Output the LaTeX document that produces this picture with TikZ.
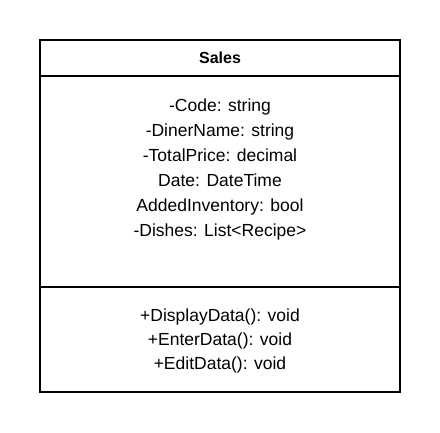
\documentclass[tikz,border=0pt]{standalone}
\usepackage{fontspec}
\setmainfont{Liberation Sans}
\begin{document}
\begin{tikzpicture}[x=1pt,y=-1pt,
  box/.style={draw=black,line width=2pt},
  txt/.style={font=\fontsize{17.5}{21}\selectfont,inner sep=0pt,anchor=base},
  title/.style={font=\fontsize{16}{19}\selectfont\bfseries,inner sep=0pt,anchor=base}]
\useasboundingbox (0,0) rectangle (440,433);
\coordinate (tl) at (40,40);
\coordinate (br) at (400,392);
\draw[box] (tl) rectangle (br);
\coordinate (h1l) at (40,76); \coordinate (h1r) at (400,76);
\coordinate (h2l) at (40,287); \coordinate (h2r) at (400,287);
\draw[box] (h1l) -- (h1r);
\draw[box] (h2l) -- (h2r);
\node[title] (t) at (220,64) {Sales};
\node[txt] (a1) at (220,112) {-Code: string};
\node[txt] (a2) at (220,137) {-DinerName: string};
\node[txt] (a3) at (220,162) {-TotalPrice: decimal};
\node[txt] (a4) at (220,187) {Date: DateTime};
\node[txt] (a5) at (220,212) {AddedInventory: bool};
\node[txt] (a6) at (220,237) {-Dishes: List<Recipe>};
\node[txt] (m1) at (220,322) {+DisplayData(): void};
\node[txt] (m2) at (220,346) {+EnterData(): void};
\node[txt] (m3) at (220,370) {+EditData(): void};
\end{tikzpicture}
\end{document}
